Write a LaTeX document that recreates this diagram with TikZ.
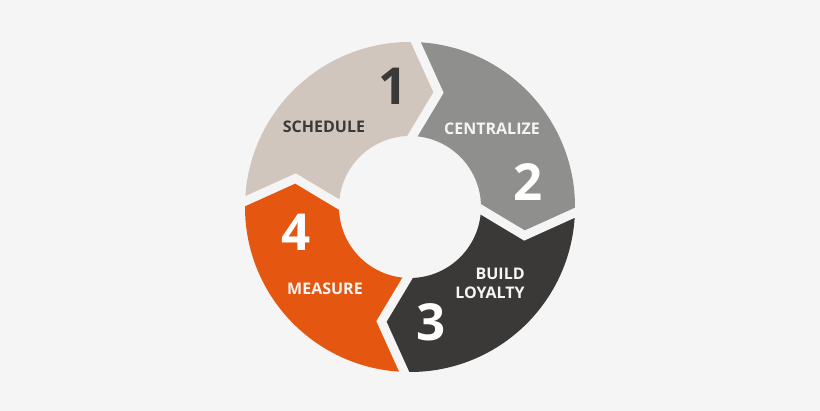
\documentclass[tikz,border=0pt]{standalone}
\usepackage{fontspec}
\setmainfont{Open Sans}
\definecolor{bgc}{RGB}{245,245,245}
\definecolor{beigec}{RGB}{208,198,190}
\definecolor{grayc}{RGB}{143,143,141}
\definecolor{darkc}{RGB}{58,57,55}
\definecolor{orangec}{RGB}{229,87,16}
\definecolor{txtdark}{RGB}{58,57,55}
\tikzset{
  sep/.style={draw=bgc, line width=9pt, line join=miter, line cap=rect},
  lbl/.style={font=\bfseries\fontsize{16}{19}\selectfont, align=center, inner sep=0pt},
  num/.style={font=\bfseries\fontsize{51}{52}\selectfont, inner sep=0pt},
}
\newcommand{\ringseg}[3]{%
  \fill[#3] (#1:165) arc[start angle=#1, end angle=#2, radius=165] -- (#2-12:118) -- (#2:71)
    arc[start angle=#2, end angle=#1, radius=71] -- (#1-12:118) -- cycle;}
\begin{document}
\begin{tikzpicture}[x=1pt,y=1pt]
\fill[bgc] (0,0) rectangle (820,411);
\useasboundingbox (0,0) rectangle (820,411);
\begin{scope}[shift={(410,204)}]
  \ringseg{178}{88}{beigec}
  \ringseg{88}{-2}{grayc}
  \ringseg{-2}{-92}{darkc}
  \ringseg{-92}{-182}{orangec}
  \foreach \t in {88,-2,-92,178}{
    \draw[sep] (\t:165) -- (\t-12:118) -- (\t:71);
  }
\end{scope}
\node[num, text=txtdark] (n1) at (393,325) {1};
\node[lbl, text=txtdark] (t1) at (324,284) {SCHEDULE};
\node[lbl, text=bgc] (t2) at (492,282) {CENTRALIZE};
\node[num, text=white] (n2) at (528,229) {2};
\node[lbl, text=bgc, align=right] (t3) at (490,128) {BUILD\\LOYALTY};
\node[num, text=white] (n3) at (431,89) {3};
\node[num, text=white] (n4) at (296,179) {4};
\node[lbl, text=bgc] (t4) at (325,122) {MEASURE};
\end{tikzpicture}
\end{document}
